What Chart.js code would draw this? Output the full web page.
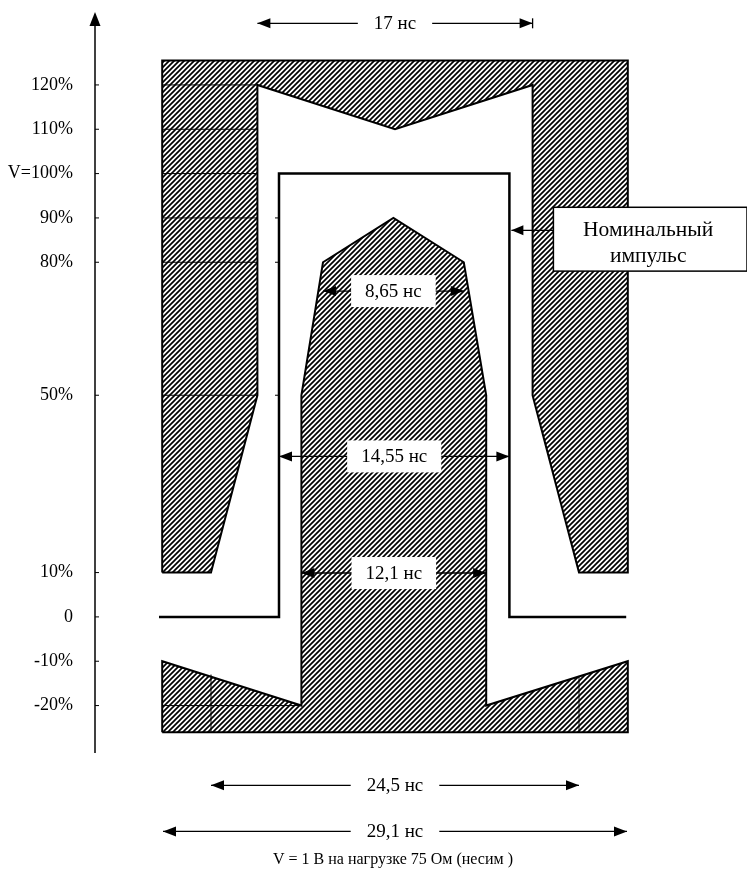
<!DOCTYPE html>
<html><head><meta charset="utf-8">
<script src="https://cdn.jsdelivr.net/npm/chart.js@4/dist/chart.umd.min.js"></script>
<style>html,body{margin:0;padding:0;background:#fff;}canvas{display:block;}</style>
</head><body>
<canvas id="c" width="747" height="883"></canvas>
<script>
// ---------- data (time in ns, amplitude in % of V) ----------
const yTickValues = [120, 110, 100, 90, 80, 50, 10, 0, -10, -20];
const yTickLabels = ['120%', '110%', 'V=100%', '90%', '80%', '50%', '10%', '0', '-10%', '-20%'];

// upper (outer) mask
const outerMaskX = [-14.55, -14.55, 14.55, 14.55, 11.5, 8.6, 8.6, 0, -8.6, -8.6, -11.5, -14.55];
const outerMaskY = [10, 125.5, 125.5, 10, 10, 50, 120, 110, 120, 50, 10, 10];

// lower (inner) mask
const innerMaskX = [-14.55, -14.55, -5.85, -5.85, -4.5, -0.1, 4.3, 5.7, 5.7, 14.55, 14.55, -14.55];
const innerMaskY = [-26, -10, -20, 50, 80, 90, 80, 50, -20, -10, -26, -26];

// nominal pulse
const nominalX = [-14.75, -7.25, -7.25, 7.15, 7.15, 14.45];
const nominalY = [0, 0, 100, 100, 0, 0];

// dimension arrows
const dimLabels = ['17 нс', '8,65 нс', '14,55 нс', '12,1 нс', '24,5 нс', '29,1 нс'];
const dimLevels = [133.9, 73.5, 36.2, 9.9, -38, -48.4];
const dimFrom = [-8.6, -4.5, -7.25, -5.85, -11.5, -14.5];
const dimTo = [8.6, 4.3, 7.15, 5.7, 11.5, 14.5];
const dimBoxed = [false, true, true, true, false, false];

// callout
const calloutLines = ['Номинальный', 'импульс'];
const calloutTip = [7.15, 87.2];
const calloutBox = [9.9, 92.4, 22.0, 78.0]; // left, top, right, bottom (data units)

const caption = 'V = 1 В на нагрузке 75 Ом (несим )';
const captionLevel = -54.7;

// helper grid segments inside masks: [x1,y1,x2,y2]
const helperLines = [
  [-14.55, 120, -8.6, 120], [-14.55, 110, -8.6, 110], [-14.55, 100, -8.6, 100],
  [-14.55, 90, -8.6, 90], [-14.55, 80, -8.6, 80], [-14.55, 50, -8.6, 50],
  [-14.55, -20, -5.85, -20], [-11.5, -13, -11.5, -26], [11.5, -13.3, 11.5, -26]
];
const pulseTicks = [90, 80, 50];

// ---------- drawing ----------
const FONT = "'Liberation Serif', 'Times New Roman', serif";
const mainCtx = document.getElementById('c').getContext('2d');

function makeHatch() {
  const s = 5;
  const t = document.createElement('canvas');
  t.width = s; t.height = s;
  const g = t.getContext('2d');
  g.strokeStyle = '#000';
  g.lineWidth = 1.7;
  g.beginPath();
  g.moveTo(0, s); g.lineTo(s, 0);
  g.moveTo(-1, 1); g.lineTo(1, -1);
  g.moveTo(s - 1, s + 1); g.lineTo(s + 1, s - 1);
  g.stroke();
  return mainCtx.createPattern(t, 'repeat');
}
const hatch = makeHatch();

function pts(xs, ys) { return xs.map((x, i) => ({ x: x, y: ys[i] })); }

function arrowHead(ctx, x, y, dir, len, hw) {
  ctx.beginPath();
  ctx.moveTo(x, y);
  ctx.lineTo(x - dir * len, y - hw);
  ctx.lineTo(x - dir * len, y + hw);
  ctx.closePath();
  ctx.fill();
}

const annotate = {
  id: 'annotate',
  afterDatasetsDraw(chart) {
    const ctx = chart.ctx;
    const xs = chart.scales.x, ys = chart.scales.y;
    const px = v => xs.getPixelForValue(v);
    const py = v => ys.getPixelForValue(v);
    ctx.save();
    ctx.fillStyle = '#000';
    ctx.strokeStyle = '#000';

    // helper thin lines
    ctx.lineWidth = 1;
    helperLines.forEach(l => {
      ctx.beginPath();
      ctx.moveTo(px(l[0]), py(l[1]));
      ctx.lineTo(px(l[2]), py(l[3]));
      ctx.stroke();
    });
    pulseTicks.forEach(v => {
      ctx.beginPath();
      ctx.moveTo(px(nominalX[1]) - 4, py(v));
      ctx.lineTo(px(nominalX[1]), py(v));
      ctx.stroke();
    });

    // y axis with arrow
    const ax = chart.chartArea.left;
    ctx.lineWidth = 1.5;
    ctx.beginPath();
    ctx.moveTo(ax, chart.chartArea.top + 8);
    ctx.lineTo(ax, chart.chartArea.bottom);
    ctx.stroke();
    ctx.beginPath();
    ctx.moveTo(ax, chart.chartArea.top - 2);
    ctx.lineTo(ax - 5.5, chart.chartArea.top + 12);
    ctx.lineTo(ax + 5.5, chart.chartArea.top + 12);
    ctx.closePath();
    ctx.fill();
    ctx.lineWidth = 1;
    yTickValues.forEach(v => {
      ctx.beginPath();
      ctx.moveTo(ax, py(v));
      ctx.lineTo(ax + 4, py(v));
      ctx.stroke();
    });

    // dimension arrows
    ctx.textAlign = 'center';
    ctx.textBaseline = 'middle';
    dimLabels.forEach((lab, i) => {
      const x1 = px(dimFrom[i]), x2 = px(dimTo[i]), y = py(dimLevels[i]);
      const cx = (x1 + x2) / 2;
      ctx.font = '19px ' + FONT;
      const tw = ctx.measureText(lab).width;
      ctx.lineWidth = 1.3;
      if (dimBoxed[i]) {
        ctx.beginPath();
        ctx.moveTo(x1, y); ctx.lineTo(x2, y);
        ctx.stroke();
        arrowHead(ctx, x1, y, -1, 13, 5);
        arrowHead(ctx, x2, y, 1, 13, 5);
        ctx.fillStyle = '#fff';
        ctx.fillRect(cx - tw / 2 - 14, y - 16, tw + 28, 32);
        ctx.fillStyle = '#000';
        ctx.fillText(lab, cx, y + 1);
      } else {
        const g = tw / 2 + 16;
        ctx.beginPath();
        ctx.moveTo(x1, y); ctx.lineTo(cx - g, y);
        ctx.moveTo(cx + g, y); ctx.lineTo(x2, y);
        ctx.stroke();
        arrowHead(ctx, x1, y, -1, 13, 5);
        arrowHead(ctx, x2, y, 1, 13, 5);
        if (i === 0) {
          ctx.beginPath();
          ctx.moveTo(x2, y - 5); ctx.lineTo(x2, y + 5);
          ctx.stroke();
        }
        ctx.fillText(lab, cx, y + 1);
      }
    });

    // callout
    const bl = px(calloutBox[0]), bt = py(calloutBox[1]), br = px(calloutBox[2]), bb = py(calloutBox[3]);
    ctx.fillStyle = '#fff';
    ctx.fillRect(bl, bt, br - bl, bb - bt);
    ctx.strokeStyle = '#000';
    ctx.lineWidth = 1.5;
    ctx.strokeRect(bl, bt, br - bl, bb - bt);
    ctx.fillStyle = '#000';
    const ty = py(calloutTip[1]), tx = px(calloutTip[0]);
    ctx.lineWidth = 1.3;
    ctx.beginPath();
    ctx.moveTo(bl, ty); ctx.lineTo(tx + 2, ty);
    ctx.stroke();
    arrowHead(ctx, tx + 2, ty, -1, 12, 5);
    ctx.font = '21.5px ' + FONT;
    const ccx = (bl + br) / 2 - 2;
    ctx.fillText(calloutLines[0], ccx, bt + 23);
    ctx.fillText(calloutLines[1], ccx, bt + 49);

    // caption
    ctx.font = '16px ' + FONT;
    ctx.fillText(caption, px(0) - 2, py(captionLevel));
    ctx.restore();
  }
};

new Chart(mainCtx, {
  type: 'scatter',
  data: {
    datasets: [
      {
        data: pts(outerMaskX, outerMaskY),
        showLine: true, fill: 'shape', backgroundColor: hatch,
        borderColor: '#000', borderWidth: 2, pointRadius: 0, tension: 0,
        borderJoinStyle: 'miter'
      },
      {
        data: pts(innerMaskX, innerMaskY),
        showLine: true, fill: 'shape', backgroundColor: hatch,
        borderColor: '#000', borderWidth: 2, pointRadius: 0, tension: 0,
        borderJoinStyle: 'miter'
      },
      {
        data: pts(nominalX, nominalY),
        showLine: true, fill: false,
        borderColor: '#000', borderWidth: 2.5, pointRadius: 0, tension: 0,
        borderJoinStyle: 'miter'
      }
    ]
  },
  options: {
    responsive: false,
    animation: false,
    layout: { padding: { top: 14, bottom: 130, left: 0, right: 16 } },
    plugins: { legend: { display: false }, tooltip: { enabled: false } },
    scales: {
      x: { type: 'linear', min: -18.75, max: 21, display: false },
      y: {
        type: 'linear', min: -30.7, max: 136,
        afterBuildTicks: s => { s.ticks = yTickValues.map(v => ({ value: v })); },
        afterFit: s => { s.width = 95; s.paddingTop = 0; s.paddingBottom = 0; },
        grid: { display: false, drawTicks: false },
        border: { display: false },
        ticks: {
          padding: 22, color: '#000',
          font: { family: FONT, size: 18 },
          callback: (v) => { const i = yTickValues.indexOf(v); return i >= 0 ? yTickLabels[i] : ''; }
        }
      }
    }
  },
  plugins: [annotate]
});
</script>
</body></html>
